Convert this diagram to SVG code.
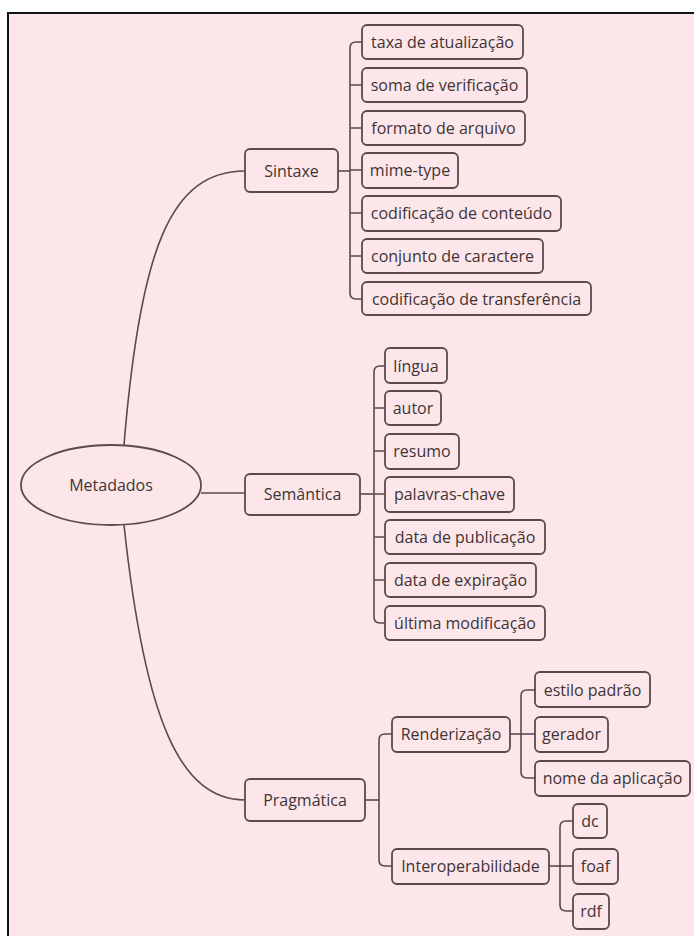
<svg xmlns="http://www.w3.org/2000/svg" width="694" height="936" viewBox="0 0 694 936">
<style>
.bx{fill:#fde6e9;stroke:#5a4a4d;stroke-width:1.8}
.t{font-family:"Open Sans","Liberation Sans",sans-serif;font-size:16px;fill:#3e3436;text-anchor:middle;dominant-baseline:central}
.c{fill:none;stroke:#5a4a4d;stroke-width:1.6}
</style>
<rect x="0" y="0" width="694" height="936" fill="#ffffff"/>
<rect x="8" y="13" width="700" height="940" fill="#fde6e9" stroke="#111" stroke-width="2"/>
<g id="connectors" class="c">
<path d="M124,445 C140,250 170,171 245,171"/>
<path d="M201,493 H245"/>
<path d="M124,525 C145,720 180,800 245,800"/>
<path d="M338,171 H350"/>
<path d="M362,42 H356 Q350,42 350,48 V293 Q350,299 356,299 H362"/>
<path d="M350,85 H362 M350,128 H362 M350,213 H362 M350,256 H362 M350,170 H362"/>
<path d="M360,494 H374"/>
<path d="M385,366 H380 Q374,366 374,372 V617 Q374,623 380,623 H385"/>
<path d="M374,408 H385 M374,451 H385 M374,494 H385 M374,537 H385 M374,580 H385"/>
<path d="M365,800 H379"/>
<path d="M392,734 H385 Q379,734 379,740 V860 Q379,866 385,866 H392"/>
<path d="M510,734 H535"/>
<path d="M535,690 H527 Q521,690 521,696 V772 Q521,778 527,778 H535"/>
<path d="M549,866 H573"/>
<path d="M573,821 H566 Q560,821 560,827 V905 Q560,911 566,911 H573"/>
</g>
<g id="metadados"><ellipse class="bx" cx="111" cy="485" rx="90" ry="40"/><text class="t" x="111" y="485">Metadados</text></g>
<g id="sintaxe"><rect class="bx" x="245" y="149" width="93" height="43" rx="5"/><text class="t" x="291.5" y="171">Sintaxe</text></g>
<g id="taxa"><rect class="bx" x="362" y="25" width="161" height="34" rx="5"/><text class="t" x="442.5" y="42">taxa de atualização</text></g>
<g id="soma"><rect class="bx" x="362" y="68" width="165" height="34" rx="5"/><text class="t" x="444.5" y="85">soma de verificação</text></g>
<g id="formato"><rect class="bx" x="362" y="111" width="163" height="34" rx="5"/><text class="t" x="443.5" y="128">formato de arquivo</text></g>
<g id="mime"><rect class="bx" x="362" y="153" width="96" height="35" rx="5"/><text class="t" x="410" y="170">mime-type</text></g>
<g id="codconteudo"><rect class="bx" x="362" y="196" width="199" height="35" rx="5"/><text class="t" x="461.5" y="213">codificação de conteúdo</text></g>
<g id="conjunto"><rect class="bx" x="362" y="239" width="181" height="34" rx="5"/><text class="t" x="452.5" y="256">conjunto de caractere</text></g>
<g id="codtransf"><rect class="bx" x="362" y="282" width="229" height="33" rx="5"/><text class="t" x="476.5" y="299">codificação de transferência</text></g>
<g id="semantica"><rect class="bx" x="245" y="474" width="115" height="41" rx="5"/><text class="t" x="302.5" y="494">Semântica</text></g>
<g id="lingua"><rect class="bx" x="385" y="348" width="62" height="35" rx="5"/><text class="t" x="416" y="366">língua</text></g>
<g id="autor"><rect class="bx" x="385" y="391" width="56" height="34" rx="5"/><text class="t" x="413" y="408">autor</text></g>
<g id="resumo"><rect class="bx" x="385" y="434" width="74" height="35" rx="5"/><text class="t" x="422" y="451">resumo</text></g>
<g id="palavras"><rect class="bx" x="385" y="477" width="129" height="35" rx="5"/><text class="t" x="449.5" y="494">palavras-chave</text></g>
<g id="datapub"><rect class="bx" x="385" y="520" width="160" height="34" rx="5"/><text class="t" x="465" y="537">data de publicação</text></g>
<g id="dataexp"><rect class="bx" x="385" y="563" width="151" height="34" rx="5"/><text class="t" x="460.5" y="580">data de expiração</text></g>
<g id="ultima"><rect class="bx" x="385" y="606" width="160" height="34" rx="5"/><text class="t" x="465" y="623">última modificação</text></g>
<g id="pragmatica"><rect class="bx" x="245" y="779" width="120" height="42" rx="5"/><text class="t" x="305" y="800">Pragmática</text></g>
<g id="renderizacao"><rect class="bx" x="392" y="717" width="118" height="35" rx="5"/><text class="t" x="451" y="734">Renderização</text></g>
<g id="interop"><rect class="bx" x="392" y="849" width="157" height="35" rx="5"/><text class="t" x="470.5" y="866">Interoperabilidade</text></g>
<g id="estilo"><rect class="bx" x="535" y="672" width="115" height="35" rx="5"/><text class="t" x="592.5" y="690">estilo padrão</text></g>
<g id="gerador"><rect class="bx" x="535" y="717" width="73" height="35" rx="5"/><text class="t" x="571.5" y="734">gerador</text></g>
<g id="nome"><rect class="bx" x="535" y="761" width="155" height="35" rx="5"/><text class="t" x="612.5" y="778">nome da aplicação</text></g>
<g id="dc"><rect class="bx" x="573" y="804" width="34" height="34" rx="5"/><text class="t" x="590" y="821">dc</text></g>
<g id="foaf"><rect class="bx" x="573" y="849" width="45" height="35" rx="5"/><text class="t" x="595.5" y="866">foaf</text></g>
<g id="rdf"><rect class="bx" x="573" y="894" width="36" height="35" rx="5"/><text class="t" x="591" y="911">rdf</text></g>
</svg>
